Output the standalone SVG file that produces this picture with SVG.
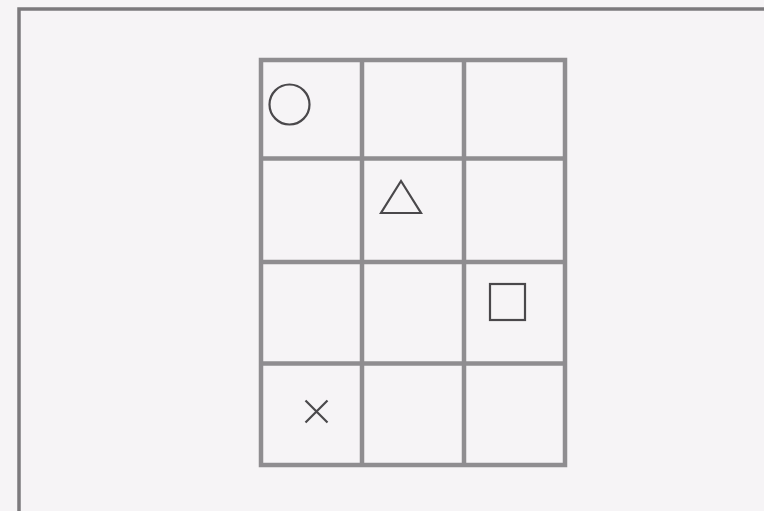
<svg xmlns="http://www.w3.org/2000/svg" width="764" height="511" viewBox="0 0 764 511">
<style>
.frame{fill:none;stroke:#7c7a7d;stroke-width:3.5}
.grid{fill:none;stroke:#8f8d90;stroke-width:4.5}
.sym{fill:none;stroke:#4a484b;stroke-width:2.2}
</style>
<rect x="0" y="0" width="764" height="511" fill="#f6f4f6"/>
<g id="frame"><path class="frame" d="M19,520 V9 H770"/></g>
<g id="grid">
<rect class="grid" x="261" y="60" width="304" height="405"/>
<path class="grid" d="M362,60 V465 M464,60 V465 M261,158.5 H565 M261,262 H565 M261,363.5 H565"/>
</g>
<g id="circle"><circle class="sym" cx="289.5" cy="104.5" r="20"/></g>
<g id="triangle"><polygon class="sym" points="401,181 381,213 421,213"/></g>
<g id="square"><rect class="sym" x="490" y="284" width="35" height="36"/></g>
<g id="cross"><path class="sym" d="M305.5,400.5 L327.5,422.5 M327.5,400.5 L305.5,422.5"/></g>
</svg>
